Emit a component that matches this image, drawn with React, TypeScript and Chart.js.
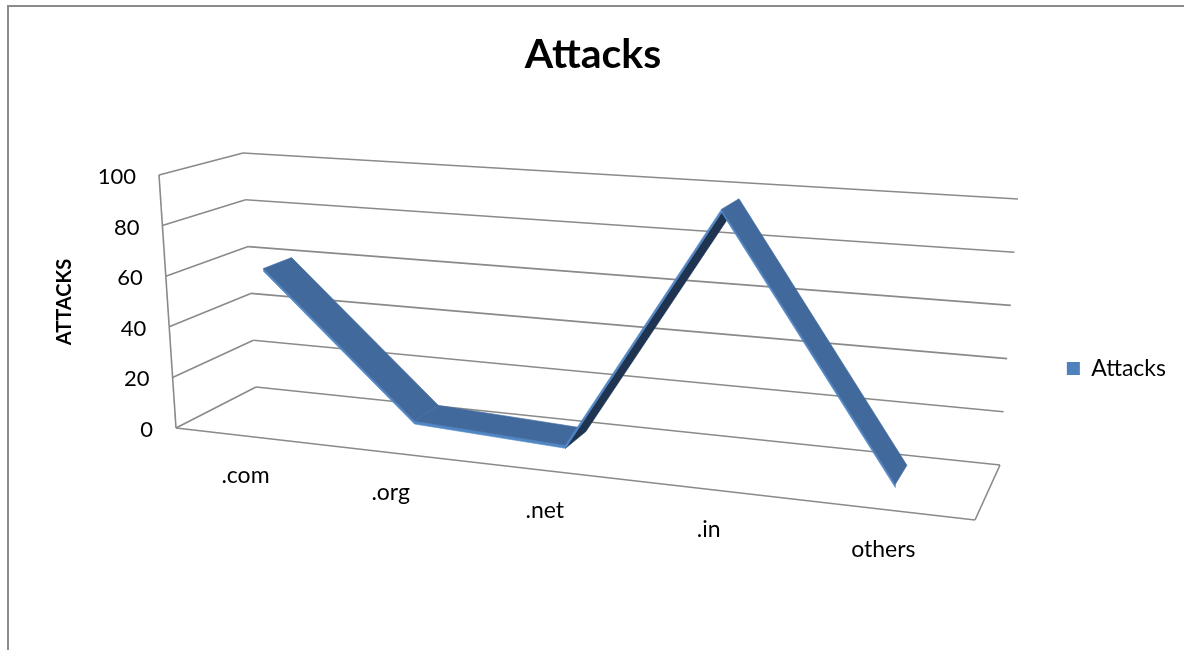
import { useEffect, useRef } from "react";
import { Chart, registerables } from "chart.js";

Chart.register(...registerables);

// ---------- data ----------
const categories = [".com", ".org", ".net", ".in", "others"];
const attacks = [61, 6, 3, 97, 2];
const seriesName = "Attacks";
const chartTitle = "Attacks";
const yAxisTitle = "ATTACKS";
const yMin = 0;
const yMax = 100;
const yStep = 20;

// ---------- styling / 3D frame geometry ----------
const FONT = "Lato, 'Open Sans', sans-serif";
type Pt = [number, number];
// floor quad: front-left, front-right, back-right, back-left
const FLOOR: Pt[] = [[176, 428], [975, 520], [1000, 465], [256, 387]];
// top plane quad (value = max)
const TOP: Pt[] = [[159, 175], [993, 231], [1018, 199], [243, 153]];
const RIB_W0 = 0.35;
const RIB_W1 = 0.71;
const RIB_T = 0.012;
const GRID = "#8a8a8a";
const TOP_COL = "#41699c";
const UNDER_COL = "#1f3450";
const FRONT_COL = "#5086c6";

function quadMap(q: Pt[]) {
  const [[x0, y0], [x1, y1], [x2, y2], [x3, y3]] = q;
  const dx1 = x1 - x2, dx2 = x3 - x2, dx3 = x0 - x1 + x2 - x3;
  const dy1 = y1 - y2, dy2 = y3 - y2, dy3 = y0 - y1 + y2 - y3;
  const den = dx1 * dy2 - dx2 * dy1;
  const g = (dx3 * dy2 - dx2 * dy3) / den;
  const h = (dx1 * dy3 - dx3 * dy1) / den;
  const a = x1 - x0 + g * x1, b = x3 - x0 + h * x3, c = x0;
  const d = y1 - y0 + g * y1, e = y3 - y0 + h * y3, f = y0;
  return (u: number, w: number): Pt => {
    const k = g * u + h * w + 1;
    return [(a * u + b * w + c) / k, (d * u + e * w + f) / k];
  };
}
const floorMap = quadMap(FLOOR);
const topMap = quadMap(TOP);
function P(u: number, v: number, w: number): Pt {
  const f = floorMap(u, w);
  const t = topMap(u, w);
  return [f[0] + (t[0] - f[0]) * v, f[1] + (t[1] - f[1]) * v];
}

function line(ctx: CanvasRenderingContext2D, a: Pt, b: Pt) {
  ctx.beginPath();
  ctx.moveTo(a[0], a[1]);
  ctx.lineTo(b[0], b[1]);
  ctx.stroke();
}
function poly(ctx: CanvasRenderingContext2D, pts: Pt[], color: string) {
  ctx.beginPath();
  ctx.moveTo(pts[0][0], pts[0][1]);
  for (let i = 1; i < pts.length; i++) ctx.lineTo(pts[i][0], pts[i][1]);
  ctx.closePath();
  ctx.fillStyle = color;
  ctx.fill();
  ctx.strokeStyle = color;
  ctx.lineWidth = 0.6;
  ctx.stroke();
}

const frame3d = {
  id: "frame3d",
  beforeDraw(chart: any) {
    const { ctx, width, height } = chart;
    ctx.save();
    ctx.fillStyle = "#ffffff";
    ctx.fillRect(0, 0, width, height);
    ctx.strokeStyle = "#8c8c8c";
    ctx.lineWidth = 2;
    ctx.beginPath();
    ctx.moveTo(8, height);
    ctx.lineTo(8, 6);
    ctx.lineTo(width, 6);
    ctx.stroke();
    ctx.restore();
  },
  beforeDatasetsDraw(chart: any) {
    const { ctx, chartArea: ca } = chart;
    const ys = chart.scales.y;
    const xs = chart.scales.x;
    const h = ca.bottom - ca.top;
    ctx.save();
    ctx.strokeStyle = GRID;
    ctx.lineWidth = 1.6;
    ys.ticks.forEach((t: any) => {
      const v = (ca.bottom - ys.getPixelForValue(t.value)) / h;
      line(ctx, P(0, v, 0), P(0, v, 1));
      line(ctx, P(0, v, 1), P(1, v, 1));
    });
    // front-left vertical edge, floor front & right edges
    line(ctx, P(0, 0, 0), P(0, 1, 0));
    line(ctx, P(0, 0, 0), P(1, 0, 0));
    line(ctx, P(1, 0, 0), P(1, 0, 1));

    // tick labels
    ctx.fillStyle = "#000";
    ctx.font = `22px ${FONT}`;
    ctx.textAlign = "right";
    ctx.textBaseline = "middle";
    ys.ticks.forEach((t: any) => {
      const v = (ca.bottom - ys.getPixelForValue(t.value)) / h;
      const p = P(0, v, 0);
      ctx.fillText(t.label, p[0] - 23, p[1] + 2);
    });
    ctx.textAlign = "center";
    ctx.font = `23px ${FONT}`;
    const labels = xs.getLabels();
    labels.forEach((lab: string, i: number) => {
      const u = (xs.getPixelForValue(i) - ca.left) / (ca.right - ca.left);
      const p = P(u, 0, 0);
      ctx.fillText(lab, p[0], p[1] + 40);
    });
    // axis title
    ctx.font = `bold 20px ${FONT}`;
    ctx.translate(65, 302);
    ctx.rotate(-Math.PI / 2);
    ctx.fillText(yAxisTitle, 0, 0);
    ctx.restore();
  },
  afterDatasetsDraw(chart: any) {
    const { ctx, chartArea: ca } = chart;
    const meta = chart.getDatasetMeta(0);
    const h = ca.bottom - ca.top;
    const wdt = ca.right - ca.left;
    const pts = meta.data.map((el: any) => ({
      u: (el.x - ca.left) / wdt,
      v: (ca.bottom - el.y) / h,
    }));
    ctx.save();
    for (let i = 0; i < pts.length - 1; i++) {
      const a = pts[i], b = pts[i + 1];
      const af = P(a.u, a.v, RIB_W0), bf = P(b.u, b.v, RIB_W0);
      const ab = P(a.u, a.v, RIB_W1), bb = P(b.u, b.v, RIB_W1);
      const seg = [bf[0] - af[0], bf[1] - af[1]];
      const dep = [ab[0] - af[0], ab[1] - af[1]];
      const cross = seg[0] * dep[1] - seg[1] * dep[0];
      const afl = P(a.u, a.v - RIB_T, RIB_W0), bfl = P(b.u, b.v - RIB_T, RIB_W0);
      if (cross > 0) {
        const abl = P(a.u, a.v - RIB_T, RIB_W1), bbl = P(b.u, b.v - RIB_T, RIB_W1);
        poly(ctx, [afl, bfl, bbl, abl], UNDER_COL);
        poly(ctx, [af, bf, bfl, afl], FRONT_COL);
      } else {
        poly(ctx, [af, bf, bfl, afl], FRONT_COL);
        poly(ctx, [af, bf, bb, ab], TOP_COL);
      }
    }
    ctx.restore();
  },
};

export default function App() {
  const ref = useRef<HTMLCanvasElement | null>(null);
  useEffect(() => {
    if (!ref.current) return;
    const chart = new Chart(ref.current, {
      type: "line",
      data: {
        labels: categories,
        datasets: [
          {
            label: seriesName,
            data: attacks,
            borderColor: "#4f81bd",
            backgroundColor: "#4f81bd",
            borderWidth: 0,
            pointRadius: 0,
            showLine: false,
          },
        ],
      },
      options: {
        responsive: false,
        animation: false,
        events: [],
        layout: { padding: { top: 6, bottom: 260, left: 10, right: 8 } },
        scales: {
          x: { type: "category", offset: true, display: false },
          y: { min: yMin, max: yMax, ticks: { stepSize: yStep }, display: false },
        },
        plugins: {
          title: {
            display: true,
            text: chartTitle,
            color: "#000",
            font: { family: FONT, size: 41, weight: "bold" },
            padding: { top: 24, bottom: 10 },
          },
          legend: {
            position: "right",
            align: "end",
            labels: {
              color: "#000",
              boxWidth: 13,
              boxHeight: 13,
              font: { family: FONT, size: 23 },
            },
          },
          tooltip: { enabled: false },
        },
      },
      plugins: [frame3d],
    });
    return () => chart.destroy();
  }, []);
  return (
    <div style={{ position: "absolute", left: 0, top: 0, width: 1184, height: 650 }}>
      <canvas ref={ref} width={1184} height={650} style={{ display: "block" }} />
    </div>
  );
}
